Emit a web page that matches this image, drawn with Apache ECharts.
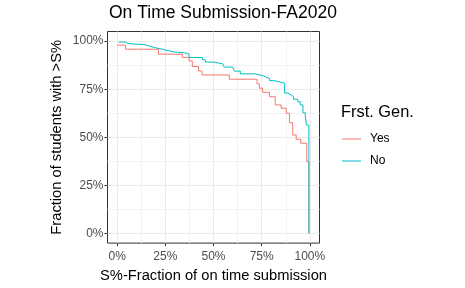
<!DOCTYPE html>
<html>
<head>
<meta charset="utf-8">
<script src="https://cdn.jsdelivr.net/npm/echarts@6/dist/echarts.min.js"></script>
<style>
html,body{margin:0;padding:0;background:#fff;}
#c{width:465px;height:288px;}
</style>
</head>
<body>
<div id="c"></div>
<script>
var seriesNames = ['Yes', 'No'];
var yesX = [0, 0.044, 0.214, 0.339, 0.373, 0.39, 0.422, 0.44, 0.582, 0.726, 0.738, 0.755, 0.79, 0.82, 0.851, 0.877, 0.894, 0.911, 0.929, 0.953, 0.984, 0.995];
var yesY = [0.979, 0.958, 0.932, 0.915, 0.897, 0.868, 0.845, 0.824, 0.802, 0.778, 0.755, 0.734, 0.711, 0.668, 0.651, 0.625, 0.576, 0.512, 0.49, 0.469, 0.373, 0.0];
var noX = [0.009, 0.043, 0.056, 0.139, 0.17, 0.2, 0.234, 0.26, 0.295, 0.35, 0.373, 0.443, 0.457, 0.5, 0.547, 0.556, 0.599, 0.608, 0.639, 0.716, 0.738, 0.76, 0.773, 0.79, 0.8125, 0.842, 0.869, 0.885, 0.903, 0.915, 0.9375, 0.95, 0.964, 0.976, 0.982, 0.995];
var noY = [0.995, 0.987, 0.982, 0.974, 0.965, 0.958, 0.951, 0.944, 0.939, 0.933, 0.915, 0.903, 0.891, 0.882, 0.873, 0.865, 0.859, 0.844, 0.83, 0.824, 0.819, 0.8125, 0.807, 0.795, 0.788, 0.781, 0.73, 0.72, 0.711, 0.698, 0.685, 0.668, 0.628, 0.616, 0.563, 0.0];
var majorTicks = [0, 0.25, 0.5, 0.75, 1];
var minorTicks = [0.125, 0.375, 0.625, 0.875];

function pairs(xs, ys) { return xs.map(function (x, i) { return [x, ys[i]]; }); }
function pct(v) { return Math.round(v * 100) + '%'; }
var FONT = '"Liberation Sans", Arial, sans-serif';

var chart = echarts.init(document.getElementById('c'), null, { renderer: 'canvas' });
function majorAxis(pos, name, gap, margin) {
  return {
    type: 'value', min: -0.05, max: 1.05, position: pos, offset: 0,
    name: name, nameLocation: 'middle', nameGap: gap,
    nameTextStyle: { color: '#000', fontSize: 14.7, fontFamily: FONT },
    axisLine: { show: false, onZero: false },
    axisTick: { show: true, length: 3, customValues: majorTicks, lineStyle: { color: '#333333', width: 1 } },
    axisLabel: { show: true, customValues: majorTicks, formatter: pct, color: '#4D4D4D', fontSize: 12, fontFamily: FONT, margin: margin },
    splitLine: { show: true, lineStyle: { color: '#EBEBEB', width: 1 } }
  };
}
function minorAxis(pos) {
  return {
    type: 'value', min: -0.05, max: 1.05, position: pos, offset: 0,
    axisLine: { show: false, onZero: false },
    axisTick: { show: false, customValues: minorTicks },
    axisLabel: { show: false, customValues: minorTicks },
    splitLine: { show: true, lineStyle: { color: '#F2F2F2', width: 1 } }
  };
}

chart.setOption({
  animation: false,
  backgroundColor: '#ffffff',
  title: [
    { text: 'On Time Submission-FA2020', left: 109, top: 4, padding: 0,
      textStyle: { color: '#000', fontSize: 17.5, fontWeight: 'normal', fontFamily: FONT } },
    { text: 'Frst. Gen.', left: 341, top: 104, padding: 0,
      textStyle: { color: '#000', fontSize: 16.4, fontWeight: 'normal', fontFamily: FONT } }
  ],
  legend: {
    data: [{ name: seriesNames[0], icon: 'rect' }, { name: seriesNames[1], icon: 'rect' }],
    orient: 'vertical', left: 342, top: 133, padding: 0,
    itemWidth: 19, itemHeight: 1, itemGap: 10,
    textStyle: { color: '#000', fontSize: 12, fontFamily: FONT, padding: [0, 0, 0, 4] }
  },
  grid: { left: 107.5, right: 145.5, top: 31.5, bottom: 44.5, show: true, borderColor: '#333333', borderWidth: 1, backgroundColor: 'transparent' },
  xAxis: [
    minorAxis('bottom'),
    majorAxis('bottom', 'S%-Fraction of on time submission', 22, 8)
  ],
  yAxis: [
    minorAxis('left'),
    majorAxis('left', 'Fraction of students with >S%', 43, 4)
  ],
  series: [
    { name: seriesNames[0], type: 'line', step: 'end', xAxisIndex: 1, yAxisIndex: 1, showSymbol: false, symbol: 'none',
      data: pairs(yesX, yesY), lineStyle: { color: '#F8766D', width: 1 }, itemStyle: { color: '#F8766D' } },
    { name: seriesNames[1], type: 'line', step: 'end', xAxisIndex: 1, yAxisIndex: 1, showSymbol: false, symbol: 'none',
      data: pairs(noX, noY), lineStyle: { color: '#00BFC4', width: 1 }, itemStyle: { color: '#00BFC4' } }
  ]
});
</script>
</body>
</html>
